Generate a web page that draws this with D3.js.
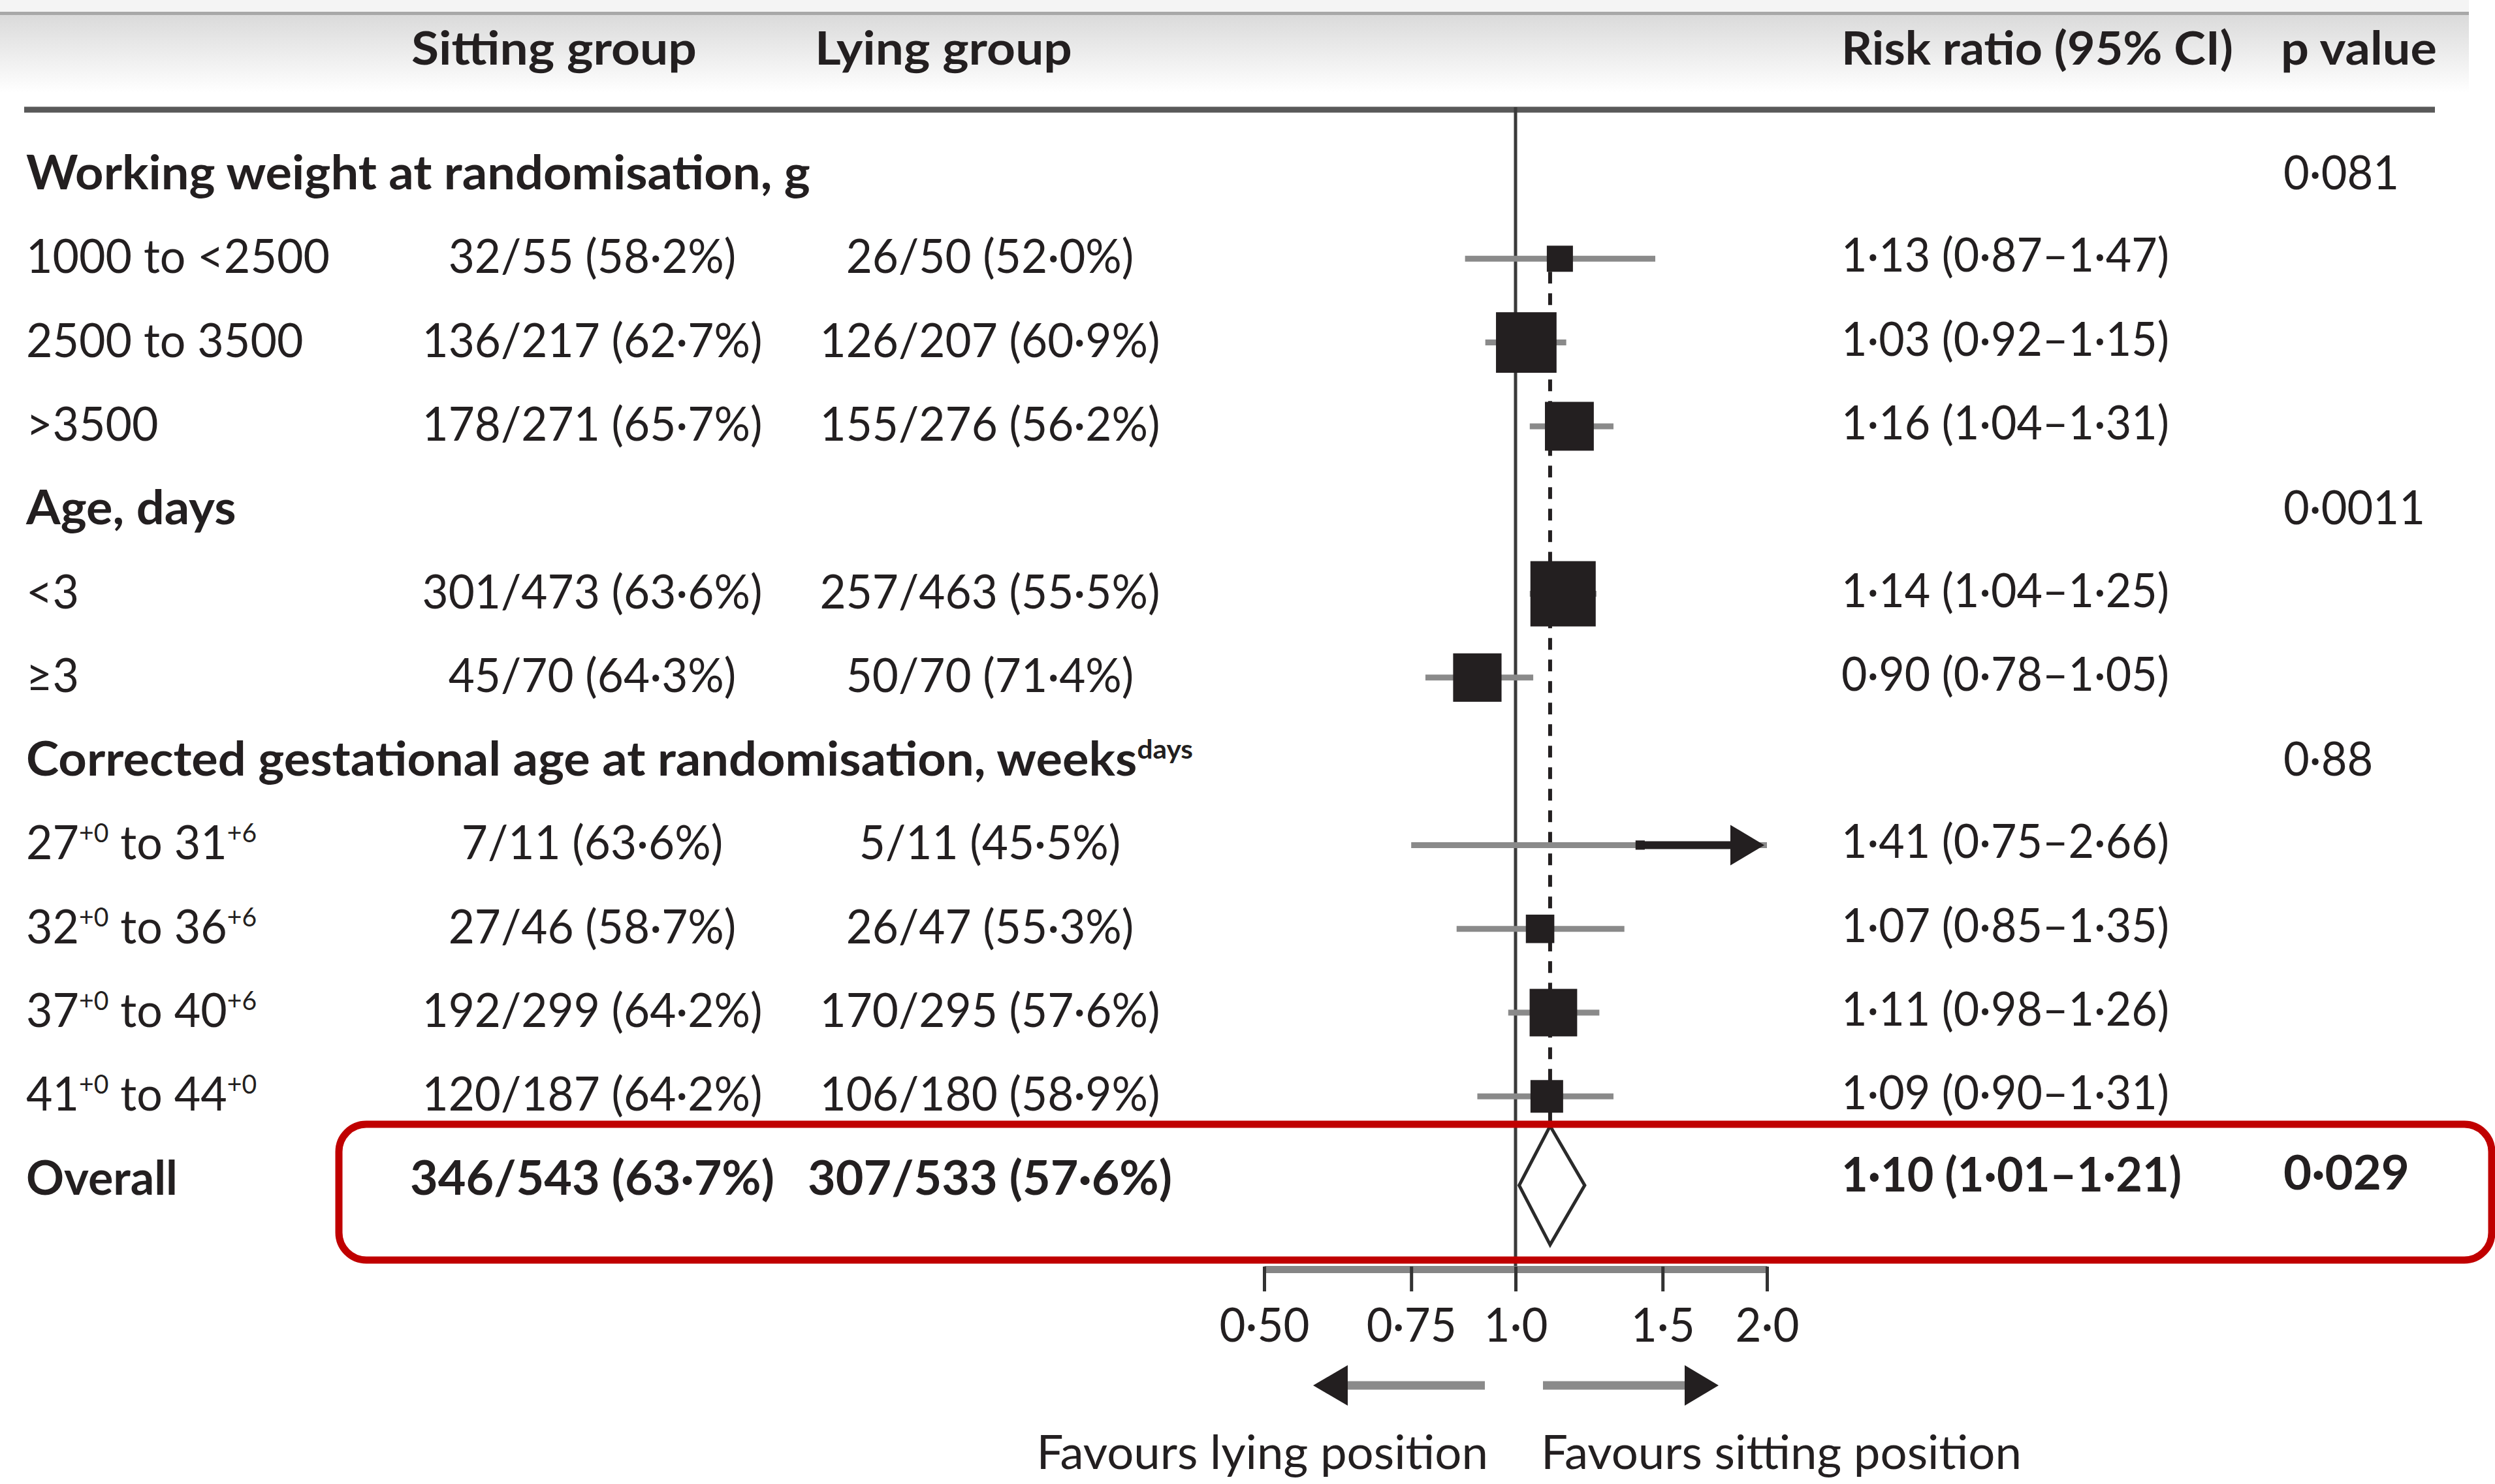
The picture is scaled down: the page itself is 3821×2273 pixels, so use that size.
<!DOCTYPE html>
<html>
<head>
<meta charset="utf-8">
<script src="https://cdn.jsdelivr.net/npm/d3@7"></script>
<style>
html,body{margin:0;padding:0;background:#fff;}
svg{display:block;}
text{white-space:pre;}
</style>
</head>
<body>
<svg id="chart" width="3821" height="2273"></svg>
<script>
// ---------------- DATA ----------------
const rowLabels = [
  "Working weight at randomisation, g",
  "1000 to <2500",
  "2500 to 3500",
  ">3500",
  "Age, days",
  "<3",
  "≥3",
  "Corrected gestational age at randomisation, weeks^{days}",
  "27^{+0} to 31^{+6}",
  "32^{+0} to 36^{+6}",
  "37^{+0} to 40^{+6}",
  "41^{+0} to 44^{+0}",
  "Overall"
];
const rowTypes = ["group","sub","sub","sub","group","sub","sub","group","sub","sub","sub","sub","overall"];
const sittingGroup = ["", "32/55 (58·2%)", "136/217 (62·7%)", "178/271 (65·7%)", "", "301/473 (63·6%)", "45/70 (64·3%)", "",
  "7/11 (63·6%)", "27/46 (58·7%)", "192/299 (64·2%)", "120/187 (64·2%)", "346/543 (63·7%)"];
const lyingGroup = ["", "26/50 (52·0%)", "126/207 (60·9%)", "155/276 (56·2%)", "", "257/463 (55·5%)", "50/70 (71·4%)", "",
  "5/11 (45·5%)", "26/47 (55·3%)", "170/295 (57·6%)", "106/180 (58·9%)", "307/533 (57·6%)"];
const riskRatio = [null, 1.13, 1.03, 1.16, null, 1.14, 0.90, null, 1.41, 1.07, 1.11, 1.09, 1.10];
const ciLow     = [null, 0.87, 0.92, 1.04, null, 1.04, 0.78, null, 0.75, 0.85, 0.98, 0.90, 1.01];
const ciHigh    = [null, 1.47, 1.15, 1.31, null, 1.25, 1.05, null, 2.66, 1.35, 1.26, 1.31, 1.21];
const boxWeight = [null, 16, 86, 56, null, 100, 55, null, 2, 19, 53, 25, null];
const pValues   = ["0·081", "", "", "", "0·0011", "", "", "0·88", "", "", "", "", "0·029"];
const columnHeaders = ["Sitting group", "Lying group", "Risk ratio (95% CI)", "p value"];
const tickValues = [0.5, 0.75, 1, 1.5, 2];
const tickLabels = ["0·50", "0·75", "1·0", "1·5", "2·0"];
const favourLabels = ["Favours lying position", "Favours sitting position"];

// ---------------- LAYOUT / STYLE ----------------
const FONT = "Lato, 'Noto Sans', 'DejaVu Sans', sans-serif";
const INK = "#231f20";
const svg = d3.select("#chart");

const x = d3.scaleLog().domain([0.5, 2]).range([1936, 2706]);
const rowY = d3.scaleLinear().domain([0, 12]).range([290, 1829.6]);
const MARK_DY = -22;
const boxSide = d3.scaleSqrt().domain([0, 100]).range([0, 100]);

const styles = {
  colHead: {size: 70, weight: 700, ref: "Risk ratio (95% CI)", target: 600},
  group:   {size: 72, weight: 700, ref: "Working weight at randomisation, g", target: 1201},
  label:   {size: 72, weight: 400, ref: "1000 to <2500", target: 465},
  cell:    {size: 72, weight: 400, ref: "136/217 (62·7%)", target: 521},
  rr:      {size: 72, weight: 400, ref: "1·13 (0·87–1·47)", target: 502},
  p:       {size: 72, weight: 400, ref: "0·0011", target: 217},
  ovLabel: {size: 72, weight: 700, ref: "Overall", target: 232},
  ovCell:  {size: 72, weight: 700, ref: "346/543 (63·7%)", target: 558},
  ovRR:    {size: 72, weight: 700, ref: "1·10 (1·01–1·21)", target: 521},
  ovP:     {size: 72, weight: 700, ref: "0·029", target: 193},
  foot:    {size: 72, weight: 400, ref: "Favours sitting position", target: 736},
  tick:    {size: 72, weight: 400, ref: "1·0", target: 98}
};
// header-specific widths (layout)
const headerX = [630, 1248, 2820, 3493];
const headerW = [437, 394, 600, 239];

function fillText(t, str, size) {
  const parts = str.split(/(\^\{[^}]*\})/).filter(s => s.length);
  let raised = false;
  parts.forEach(p => {
    const m = p.match(/^\^\{([^}]*)\}$/);
    if (m) {
      t.append("tspan").attr("font-size", size * 0.56).attr("dy", -size * 0.36).text(m[1]);
      raised = true;
    } else {
      const ts = t.append("tspan").text(p);
      if (raised) { ts.attr("dy", size * 0.36); raised = false; }
    }
  });
}
function measure(str, st) {
  const t = svg.append("text").attr("font-family", FONT).attr("font-size", st.size).attr("font-weight", st.weight);
  fillText(t, str, st.size);
  const w = t.node().getComputedTextLength();
  t.remove();
  return w;
}
Object.values(styles).forEach(st => { st.k = st.target / measure(st.ref, st); });

function addText(g, px, py, str, styleName, anchor, kOverride) {
  const st = styles[styleName];
  const k = kOverride || st.k;
  const t = g.append("text")
    .attr("transform", `translate(${px},${py}) scale(${k},1)`)
    .attr("font-family", FONT).attr("font-size", st.size).attr("font-weight", st.weight)
    .attr("fill", INK).attr("text-anchor", anchor || "start");
  fillText(t, str, st.size);
  return t;
}

// ---------------- HEADER BAND ----------------
const defs = svg.append("defs");
const grad = defs.append("linearGradient").attr("id", "hdrGrad").attr("x1", 0).attr("x2", 0).attr("y1", 0).attr("y2", 1);
grad.append("stop").attr("offset", 0).attr("stop-color", "#dadada");
grad.append("stop").attr("offset", 1).attr("stop-color", "#ffffff");
svg.append("rect").attr("x", 0).attr("y", 0).attr("width", 3781).attr("height", 19).attr("fill", "#f4f4f4");
svg.append("rect").attr("x", 0).attr("y", 22).attr("width", 3781).attr("height", 120).attr("fill", "url(#hdrGrad)");
svg.append("line").attr("x1", 0).attr("x2", 3781).attr("y1", 20.5).attr("y2", 20.5).attr("stroke", "#a8a8a8").attr("stroke-width", 5);

const gText = svg.append("g");
columnHeaders.forEach((h, i) => {
  const k = headerW[i] / measure(h, styles.colHead);
  addText(gText, headerX[i], 99, h, "colHead", "start", k);
});

// top rule
svg.append("line").attr("x1", 37).attr("x2", 3729).attr("y1", 168).attr("y2", 168)
  .attr("stroke", "#595959").attr("stroke-width", 9);

// ---------------- TABLE TEXT ----------------
const LABEL_X = 40, SIT_X = 907, LIE_X = 1516, RR_X = 2820, P_X = 3497;
const fmt = v => d3.format(".2f")(v).replace(".", "·");
rowLabels.forEach((lab, i) => {
  const y = rowY(i);
  const type = rowTypes[i];
  const ov = type === "overall";
  addText(gText, LABEL_X, y, lab, type === "group" ? "group" : (ov ? "ovLabel" : "label"), "start");
  if (sittingGroup[i]) addText(gText, SIT_X, y, sittingGroup[i], ov ? "ovCell" : "cell", "middle");
  if (lyingGroup[i]) addText(gText, LIE_X, y, lyingGroup[i], ov ? "ovCell" : "cell", "middle");
  if (riskRatio[i] != null) {
    const s = `${fmt(riskRatio[i])} (${fmt(ciLow[i])}–${fmt(ciHigh[i])})`;
    addText(gText, RR_X, ov ? y - 5 : y - 2, s, ov ? "ovRR" : "rr", "start");
  }
  if (pValues[i]) addText(gText, P_X, ov ? y - 8 : y, pValues[i], ov ? "ovP" : "p", "start");
});

// ---------------- FOREST PLOT ----------------
const gPlot = svg.append("g");
const xMax = x.domain()[1];
const overallIdx = rowTypes.indexOf("overall");
const diamondCy = rowY(overallIdx) - 14, diamondHalf = 91;

gPlot.append("line").attr("x1", x(1)).attr("x2", x(1)).attr("y1", 164).attr("y2", 1944)
  .attr("stroke", "#3a3a3a").attr("stroke-width", 5);

const firstIdx = riskRatio.findIndex(v => v != null);
gPlot.append("line")
  .attr("x1", x(riskRatio[overallIdx])).attr("x2", x(riskRatio[overallIdx]))
  .attr("y1", rowY(firstIdx) + MARK_DY + boxSide(boxWeight[firstIdx]) / 2)
  .attr("y2", diamondCy - diamondHalf)
  .attr("stroke", INK).attr("stroke-width", 6).attr("stroke-dasharray", "18 15");

const rows = d3.range(rowLabels.length).filter(i => riskRatio[i] != null && rowTypes[i] !== "overall");

gPlot.selectAll("line.ci").data(rows).join("line").attr("class", "ci")
  .attr("x1", i => x(ciLow[i])).attr("x2", i => x(Math.min(ciHigh[i], xMax)))
  .attr("y1", i => rowY(i) + MARK_DY).attr("y2", i => rowY(i) + MARK_DY)
  .attr("stroke", "#8a8a8a").attr("stroke-width", 9);

const clipped = rows.filter(i => ciHigh[i] > xMax);
gPlot.selectAll("line.shaft").data(clipped).join("line").attr("class", "shaft")
  .attr("x1", i => x(riskRatio[i])).attr("x2", x(xMax) - 52)
  .attr("y1", i => rowY(i) + MARK_DY).attr("y2", i => rowY(i) + MARK_DY)
  .attr("stroke", INK).attr("stroke-width", 12);
gPlot.selectAll("path.head").data(clipped).join("path").attr("class", "head")
  .attr("d", i => {
    const cy = rowY(i) + MARK_DY, xt = x(xMax) - 4, xb = x(xMax) - 56;
    return `M${xb},${cy - 31}L${xt},${cy}L${xb},${cy + 31}Z`;
  })
  .attr("fill", INK);

gPlot.selectAll("rect.box").data(rows).join("rect").attr("class", "box")
  .attr("x", i => x(riskRatio[i]) - boxSide(boxWeight[i]) / 2)
  .attr("y", i => rowY(i) + MARK_DY - boxSide(boxWeight[i]) / 2)
  .attr("width", i => boxSide(boxWeight[i]))
  .attr("height", i => boxSide(boxWeight[i]))
  .attr("fill", INK);

const o = overallIdx;
gPlot.append("path")
  .attr("d", `M${x(ciLow[o])},${diamondCy}L${x(riskRatio[o])},${diamondCy - diamondHalf}L${x(ciHigh[o])},${diamondCy}L${x(riskRatio[o])},${diamondCy + diamondHalf}Z`)
  .attr("fill", "#fff").attr("stroke", "#2a2a2a").attr("stroke-width", 5).attr("stroke-linejoin", "miter");

svg.append("rect").attr("x", 519).attr("y", 1722).attr("width", 3816 - 519).attr("height", 1930 - 1722)
  .attr("rx", 42).attr("ry", 42).attr("fill", "none").attr("stroke", "#c00000").attr("stroke-width", 11);

// ---------------- AXIS ----------------
const gAxis = svg.append("g").attr("transform", "translate(0,1944)")
  .call(d3.axisBottom(x).tickValues(tickValues).tickFormat((d, i) => tickLabels[i])
    .tickSize(34).tickSizeOuter(0).tickPadding(26));
gAxis.select(".domain").attr("stroke", "#858585").attr("stroke-width", 11);
gAxis.selectAll(".tick line").attr("stroke", "#333").attr("stroke-width", 5).attr("y1", -4);
gAxis.selectAll(".tick text")
  .attr("font-family", FONT).attr("font-size", styles.tick.size).attr("font-weight", 400)
  .attr("fill", INK)
  .attr("transform", `scale(${styles.tick.k},1)`);
gAxis.attr("font-family", null).attr("font-size", null);

// favours arrows
const ay = 2122, x1 = x(1);
const gFav = svg.append("g");
gFav.append("line").attr("x1", x1 - 47).attr("x2", x1 - 262).attr("y1", ay).attr("y2", ay)
  .attr("stroke", "#8a8a8a").attr("stroke-width", 13);
gFav.append("path").attr("d", `M${x1 - 257},${ay - 31}L${x1 - 310},${ay}L${x1 - 257},${ay + 31}Z`).attr("fill", INK);
gFav.append("line").attr("x1", x1 + 42).attr("x2", x1 + 265).attr("y1", ay).attr("y2", ay)
  .attr("stroke", "#8a8a8a").attr("stroke-width", 13);
gFav.append("path").attr("d", `M${x1 + 259},${ay - 31}L${x1 + 311},${ay}L${x1 + 259},${ay + 31}Z`).attr("fill", INK);

addText(gFav, x1 - 42, 2250, favourLabels[0], "foot", "end");
addText(gFav, x1 + 39, 2250, favourLabels[1], "foot", "start");
</script>
</body>
</html>
